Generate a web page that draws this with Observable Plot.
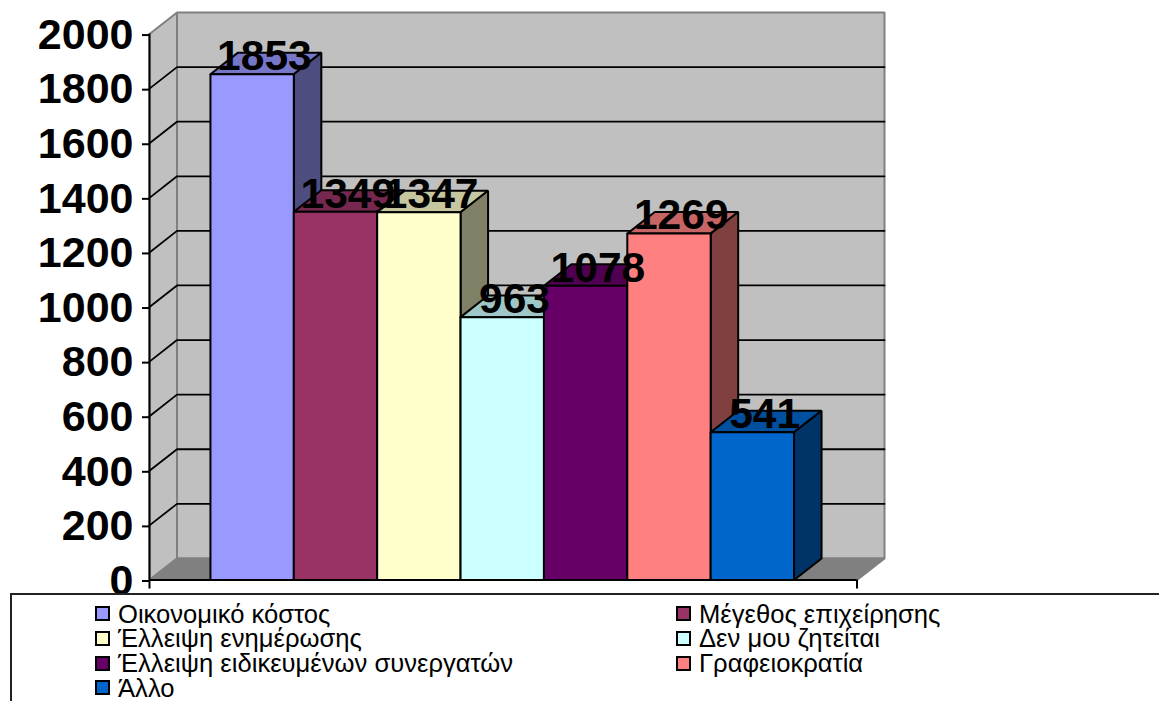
<!DOCTYPE html>
<html>
<head>
<meta charset="utf-8">
<script src="https://cdn.jsdelivr.net/npm/d3@7"></script>
<script src="https://cdn.jsdelivr.net/npm/@observablehq/plot@0.6"></script>
<style>
  html, body { margin: 0; padding: 0; background: #fff; overflow: hidden; width: 1159px; height: 701px; }
  svg { overflow: visible; display: block; position: relative; z-index: 0; }
  #legend {
    position: relative; z-index: 1; box-sizing: border-box; background: #fff;
    margin-left: 10px; width: 1160px; height: 110px;
    border-top: 2px solid #222; border-left: 2px solid #222;
    padding: 6.5px 0 0 83px;
    display: grid; grid-template-columns: 581px 400px; grid-auto-rows: 24.7px;
    font-family: "Liberation Sans", Arial, sans-serif; font-size: 25.6px; color: #000;
  }
  .item { display: flex; align-items: center; white-space: nowrap; line-height: 24.7px; }
  .sw { box-sizing: border-box; width: 15px; height: 15px; border: 2px solid #000; margin-right: 8px; flex: none; }
</style>
</head>
<body>
<div id="chart"></div>
<div id="legend"></div>
<script>
const categories = ["Οικονομικό κόστος", "Μέγεθος επιχείρησης", "Έλλειψη ενημέρωσης", "Δεν μου ζητείται", "Έλλειψη ειδικευμένων συνεργατών", "Γραφειοκρατία", "Άλλο"];
const values = [1853, 1349, 1347, 963, 1078, 1269, 541];
const colors = ["#9999FF", "#993366", "#FFFFCC", "#CCFFFF", "#660066", "#FF8080", "#0066CC"];
const tickValues = [0, 200, 400, 600, 800, 1000, 1200, 1400, 1600, 1800, 2000];

// Oblique depth of the 3-D box, in data units
const depthX = 0.33, depthY = 79;
const floorStart = -0.731, floorEnd = 7.755, yTop = 2000;
const endTickBelow = -33;

const shade = (c, k) => { const r = d3.rgb(c); return d3.rgb(r.r * k, r.g * k, r.b * k).formatHex(); };

function poly(id, fill, pts) {
  return pts.concat([pts[0]]).map(([x, y]) => ({id, fill, x, y}));
}

const walls = [
  ...poly("left", "#C0C0C0", [[floorStart, 0], [floorStart, yTop], [floorStart + depthX, yTop + depthY], [floorStart + depthX, depthY]]),
  ...poly("back", "#C0C0C0", [[floorStart + depthX, depthY], [floorStart + depthX, yTop + depthY], [floorEnd + depthX, yTop + depthY], [floorEnd + depthX, depthY]]),
  ...poly("floor", "#808080", [[floorStart, 0], [floorStart + depthX, depthY], [floorEnd + depthX, depthY], [floorEnd, 0]])
];

const grid = tickValues.filter(t => t > 0 && t < yTop).flatMap(t => [
  {t, x: floorStart, y: t},
  {t, x: floorStart + depthX, y: t + depthY},
  {t, x: floorEnd + depthX, y: t + depthY}
]);

const faces = values.flatMap((v, i) => [
  ...poly(`top${i}`, shade(colors[i], 0.78), [[i, v], [i + depthX, v + depthY], [i + 1 + depthX, v + depthY], [i + 1, v]]),
  ...poly(`side${i}`, shade(colors[i], 0.5), [[i + 1, 0], [i + 1, v], [i + 1 + depthX, v + depthY], [i + 1 + depthX, depthY]]),
  ...poly(`front${i}`, colors[i], [[i, 0], [i, v], [i + 1, v], [i + 1, 0]])
]);

const labels = values.map((v, i) => ({x: i + 0.5 + depthX / 2, y: v + depthY - 3, text: String(v)}));

const plot = Plot.plot({
  width: 1159, height: 593,
  marginLeft: 149, marginRight: 275, marginTop: 12, marginBottom: 13.5,
  style: {fontFamily: '"Liberation Sans", Arial, sans-serif', background: "#fff", color: "#000", overflow: "visible"},
  x: {axis: null, domain: [floorStart, floorEnd + depthX]},
  y: {axis: null, domain: [0, yTop + depthY]},
  color: {type: "identity"},
  marks: [
    Plot.line(walls, {x: "x", y: "y", z: "id", fill: "fill", stroke: "#808080", strokeWidth: 2, strokeLinejoin: "miter"}),
    Plot.line(grid, {x: "x", y: "y", z: "t", stroke: "#000", strokeWidth: 1.8, strokeLinejoin: "miter"}),
    Plot.ruleX([floorStart], {y1: 0, y2: yTop, stroke: "#000", strokeWidth: 2}),
    Plot.line(faces, {x: "x", y: "y", z: "id", fill: "fill", stroke: "#000", strokeWidth: 2, strokeLinejoin: "miter"}),
    Plot.ruleY([0], {x1: floorStart, x2: floorEnd, stroke: "#000", strokeWidth: 2}),
    Plot.ruleX([floorStart, floorEnd], {y1: 0, y2: endTickBelow, stroke: "#000", strokeWidth: 2}),
    Plot.axisY(tickValues, {
      anchor: "left", tickSize: 7, tickPadding: 9, stroke: "#000", strokeWidth: 2,
      fontSize: 43, fontWeight: "bold", fill: "#000", tickFormat: d => String(d), label: null, dy: 1
    }),
    Plot.text(labels, {x: "x", y: "y", text: "text", fontSize: 42.5, fontWeight: "bold", fill: "#000", lineAnchor: "middle", dx: -1.5, dy: 3})
  ]
});
document.getElementById("chart").appendChild(plot);

const legend = document.getElementById("legend");
categories.forEach((c, i) => {
  const item = document.createElement("div");
  item.className = "item";
  const sw = document.createElement("span");
  sw.className = "sw";
  sw.style.background = colors[i];
  item.appendChild(sw);
  item.appendChild(document.createTextNode(c));
  legend.appendChild(item);
});
</script>
</body>
</html>
